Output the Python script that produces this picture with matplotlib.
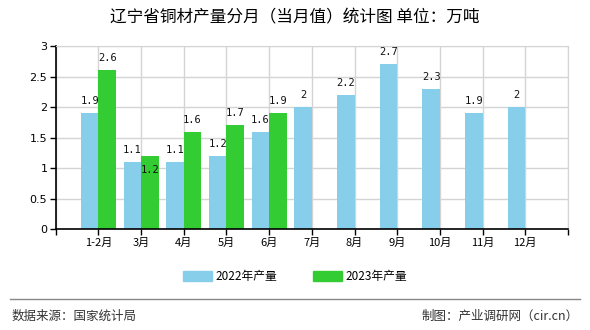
import matplotlib
matplotlib.use("Agg")
import matplotlib.pyplot as plt
from matplotlib.patches import Patch
from matplotlib.lines import Line2D

plt.rcParams['font.family'] = ['Noto Sans CJK SC', 'DejaVu Sans']

categories = ['1-2月', '3月', '4月', '5月', '6月', '7月', '8月', '9月', '10月', '11月', '12月']
values_2022 = [1.9, 1.1, 1.1, 1.2, 1.6, 2, 2.2, 2.7, 2.3, 1.9, 2]
values_2023 = [2.6, 1.2, 1.6, 1.7, 1.9]
series_names = ['2022年产量', '2023年产量']
yticks = [0, 0.5, 1, 1.5, 2, 2.5, 3]
ytick_labels = ['0', '0.5', '1', '1.5', '2', '2.5', '3']

c22 = '#87CEEB'
c23 = '#33CC33'

fig = plt.figure(figsize=(5.9, 3.3), dpi=100)
ax = fig.add_axes([0.0944, 0.3052, 0.8683, 0.5554])

bw = 0.41
x22 = [i + 1 for i in range(len(values_2022))]
x23 = [i + 1 for i in range(len(values_2023))]
ax.bar(x22, values_2022, width=-bw, align='edge', color=c22, zorder=2)
ax.bar(x23, values_2023, width=bw, align='edge', color=c23, zorder=2)

lab_font = dict(family=['DejaVu Sans Mono'], fontsize=7.5, color='#111')
for x, v in zip(x22, values_2022):
    ax.annotate(f'{v:g}', (x - bw / 2, v), xytext=(0, 5), textcoords='offset points',
                ha='center', va='bottom', zorder=3, **lab_font)
for i, (x, v) in enumerate(zip(x23, values_2023)):
    dy = -14 if i == 1 else 5
    ax.annotate(f'{v:g}', (x + bw / 2, v), xytext=(0, dy), textcoords='offset points',
                ha='center', va='bottom', zorder=3, **lab_font)

ax.set_xlim(0, 12)
ax.set_ylim(0, 3)
ax.set_xticks(range(0, 13))
ax.set_xticklabels([''] + categories + [''], fontsize=8)
ax.set_yticks(yticks)
ax.set_yticklabels(ytick_labels, fontsize=8, family=['DejaVu Sans'])
ax.tick_params(axis='both', direction='out', length=4, width=1, color='black', pad=2)
ax.grid(True, color='#d4d4d4', linewidth=1, zorder=0)
ax.set_axisbelow(True)
for s in ['top', 'right']:
    ax.spines[s].set_color('#d4d4d4')
for s in ['left', 'bottom']:
    ax.spines[s].set_color('black')
    ax.spines[s].set_linewidth(1.2)

fig.text(0.5, 0.945, '辽宁省铜材产量分月（当月值）统计图 单位：万吨', ha='center', va='center', fontsize=12)

handles = [Patch(color=c22), Patch(color=c23)]
fig.legend(handles, series_names, loc='center', bbox_to_anchor=(0.5, 0.163), ncol=2,
           frameon=False, fontsize=8.5, handlelength=2.5, handleheight=0.9,
           columnspacing=3, handletextpad=0.3)

fig.add_artist(Line2D([0.017, 0.983], [0.095, 0.095], color='#888888', linewidth=1, transform=fig.transFigure))
fig.text(0.02, 0.042, '数据来源：国家统计局', ha='left', va='center', fontsize=9, color='#333333')
fig.text(0.98, 0.042, '制图：产业调研网（cir.cn）', ha='right', va='center', fontsize=9, color='#333333')

fig.savefig('out.png', dpi=100)
